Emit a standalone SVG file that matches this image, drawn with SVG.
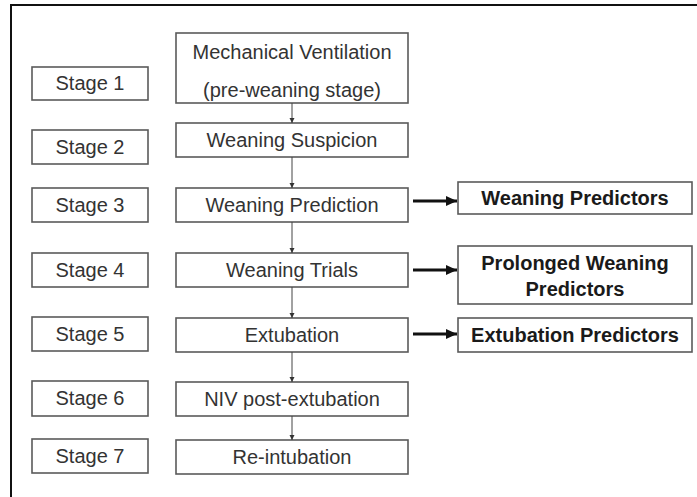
<svg xmlns="http://www.w3.org/2000/svg" width="697" height="497" viewBox="0 0 697 497">
<defs>
<style>
.box{fill:#fff;stroke:#5a5a5a;stroke-width:1.6}
.t{font-family:"Liberation Sans",Arial,sans-serif;font-size:20px;fill:#333;text-anchor:middle}
.b{font-family:"Liberation Sans",Arial,sans-serif;font-size:20px;font-weight:bold;fill:#1a1a1a;text-anchor:middle}
.thin{stroke:#444;stroke-width:1;fill:none}
.thick{stroke:#111;stroke-width:3.2;fill:none}
</style>
<marker id="sm" markerWidth="6" markerHeight="6" refX="5" refY="3" orient="auto" markerUnits="userSpaceOnUse"><path d="M0,0.5 L5,3 L0,5.5 Z" fill="#333"/></marker>
<marker id="big" markerWidth="12" markerHeight="12" refX="11" refY="6" orient="auto" markerUnits="userSpaceOnUse"><path d="M0,1 L11,6 L0,11 Z" fill="#111"/></marker>
</defs>
<rect x="0" y="0" width="697" height="497" fill="#fff"/>
<rect x="11" y="5" width="700" height="500" fill="none" stroke="#111" stroke-width="2"/>

<g id="stage1"><rect class="box" x="32" y="67" width="116" height="33"/><text class="t" x="90" y="90">Stage 1</text></g>
<g id="stage2"><rect class="box" x="32" y="130" width="116" height="34"/><text class="t" x="90" y="154">Stage 2</text></g>
<g id="stage3"><rect class="box" x="32" y="188" width="116" height="34"/><text class="t" x="90" y="212">Stage 3</text></g>
<g id="stage4"><rect class="box" x="32" y="253" width="116" height="34"/><text class="t" x="90" y="277">Stage 4</text></g>
<g id="stage5"><rect class="box" x="32" y="317" width="116" height="34"/><text class="t" x="90" y="341">Stage 5</text></g>
<g id="stage6"><rect class="box" x="32" y="381" width="116" height="35"/><text class="t" x="90" y="405">Stage 6</text></g>
<g id="stage7"><rect class="box" x="32" y="439" width="116" height="34"/><text class="t" x="90" y="463">Stage 7</text></g>

<g id="mv"><rect class="box" x="176" y="33" width="232" height="70"/><text class="t" x="292" y="59">Mechanical Ventilation</text><text class="t" x="292" y="97">(pre-weaning stage)</text></g>
<g id="ws"><rect class="box" x="176" y="123" width="232" height="34"/><text class="t" x="292" y="147">Weaning Suspicion</text></g>
<g id="wp"><rect class="box" x="176" y="188" width="232" height="34"/><text class="t" x="292" y="212">Weaning Prediction</text></g>
<g id="wt"><rect class="box" x="176" y="253" width="232" height="34"/><text class="t" x="292" y="277">Weaning Trials</text></g>
<g id="ex"><rect class="box" x="176" y="318" width="232" height="34"/><text class="t" x="292" y="342">Extubation</text></g>
<g id="niv"><rect class="box" x="176" y="382" width="232" height="34"/><text class="t" x="292" y="406">NIV post-extubation</text></g>
<g id="ri"><rect class="box" x="176" y="440" width="232" height="34"/><text class="t" x="292" y="464">Re-intubation</text></g>

<g id="wpred"><rect class="box" x="458" y="182" width="234" height="32"/><text class="b" x="575" y="205">Weaning Predictors</text></g>
<g id="pwpred"><rect class="box" x="458" y="246" width="234" height="58"/><text class="b" x="575" y="270">Prolonged Weaning</text><text class="b" x="575" y="296">Predictors</text></g>
<g id="expred"><rect class="box" x="458" y="318" width="234" height="34"/><text class="b" x="575" y="342">Extubation Predictors</text></g>

<g id="connectors">
<line class="thin" x1="292" y1="103" x2="292" y2="123" marker-end="url(#sm)"/>
<line class="thin" x1="292" y1="157" x2="292" y2="188" marker-end="url(#sm)"/>
<line class="thin" x1="292" y1="222" x2="292" y2="253" marker-end="url(#sm)"/>
<line class="thin" x1="292" y1="287" x2="292" y2="318" marker-end="url(#sm)"/>
<line class="thin" x1="292" y1="352" x2="292" y2="382" marker-end="url(#sm)"/>
<line class="thin" x1="292" y1="416" x2="292" y2="440" marker-end="url(#sm)"/>
<line class="thick" x1="413" y1="201" x2="457" y2="201" marker-end="url(#big)"/>
<line class="thick" x1="413" y1="270" x2="457" y2="270" marker-end="url(#big)"/>
<line class="thick" x1="413" y1="334" x2="457" y2="334" marker-end="url(#big)"/>
</g>
</svg>
